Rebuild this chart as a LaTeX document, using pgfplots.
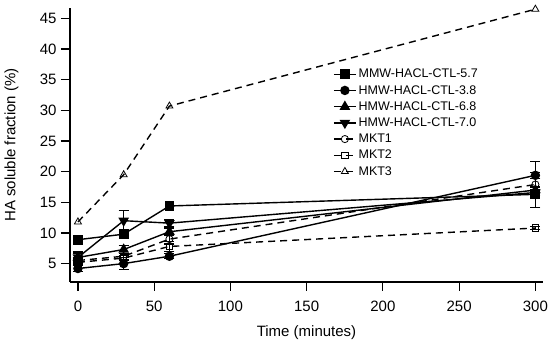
\documentclass[border=0pt]{standalone}
\usepackage{fontspec}
\setmainfont{Liberation Sans}
\usepackage{pgfplots}
\pgfplotsset{compat=1.18}
\begin{document}
\begin{tikzpicture}[x=1pt,y=1pt]
\useasboundingbox (-70,-62) rectangle (480,282);
\begin{axis}[
  at={(0,0)}, anchor=south west,
  scale only axis, width=473pt, height=274pt,
  xmin=-5.2, xmax=305, ymin=2, ymax=46.7,
  axis x line=bottom, axis y line=left,
  axis line style={-, line width=1.2pt},
  xtick={0,50,...,300}, ytick={5,10,...,45},
  minor tick num=0,
  tick align=outside, major tick length=9pt,
  tick style={black, line width=1.2pt},
  ticklabel style={font=\fontsize{15}{17}\selectfont},
  xticklabel style={yshift=-6pt},
  yticklabel style={xshift=-1pt},
  /pgf/number format/assume math mode=true,
  xlabel={Time (minutes)},
  ylabel={HA soluble fraction (\%)},
  label style={font=\fontsize{15}{17}\selectfont},
  xlabel style={at={(axis description cs:0.5,0)}, anchor=north, yshift=-40pt},
  ylabel style={at={(axis description cs:0,0.5)}, anchor=south, yshift=48pt},
  clip=false,
  legend style={at={(axis description cs:0.556,0.785)}, anchor=north west, draw=none, fill=none,
    font=\fontsize{12.5}{14}\selectfont, row sep=2pt, inner sep=0pt},
  legend cell align=left,
  legend image code/.code={\draw[#1] (0pt,0pt) -- (22pt,0pt); \draw[#1, solid, mark repeat=1] plot coordinates {(11pt,0pt)};},
  every axis plot/.append style={line width=1.4pt, black},
  error bars/error bar style={line width=1.2pt, solid},
  error bars/error mark options={rotate=90, mark size=5pt, line width=1.2pt},
]
% MMW-HACL-CTL-5.7
\addplot[mark=square*, mark size=4.2pt] coordinates {(0,8.9) (30,9.8) (60,14.4) (300,16.3)};
\addlegendentry{MMW-HACL-CTL-5.7}
% HMW-HACL-CTL-3.8
\addplot[mark=*, mark size=4pt, error bars/.cd, y dir=both, y explicit] coordinates {(0,4.2) +- (0,0.5) (30,5.0) +- (0,1.0) (60,6.2) +- (0,0.4) (300,19.4) +- (0,0.5)};
\addlegendentry{HMW-HACL-CTL-3.8}
% HMW-HACL-CTL-6.8
\addplot[mark=triangle*, mark size=4.8pt, error bars/.cd, y dir=both, y explicit] coordinates {(0,6.0) +- (0,0.6) (30,7.3) +- (0,0.6) (60,10.2) +- (0,0.6) (300,17.0) +- (0,0.5)};
\addlegendentry{HMW-HACL-CTL-6.8}
% HMW-HACL-CTL-7.0
\addplot[mark=triangle*, mark options={rotate=180}, mark size=4.8pt, error bars/.cd, y dir=both, y explicit] coordinates {(0,6.0) +- (0,0.9) (30,12.0) +- (0,1.7) (60,11.6) +- (0,0.6) (300,16.6) +- (0,0.5)};
\addlegendentry{HMW-HACL-CTL-7.0}
% MKT1
\addplot[dashed, dash pattern=on 7pt off 5pt, mark=o, mark size=3.6pt, mark options={solid, line width=0.8pt}, error bars/.cd, y dir=both, y explicit] coordinates {(0,5.5) +- (0,0.4) (30,6.2) +- (0,0.5) (60,9.0) +- (0,0.8) (300,17.9) +- (0,3.7)};
\addlegendentry{MKT1}
% MKT2
\addplot[dashed, dash pattern=on 7pt off 5pt, mark=square, mark size=3.2pt, mark options={solid, line width=0.8pt}, error bars/.cd, y dir=both, y explicit] coordinates {(0,5.2) +- (0,0.4) (30,5.9) +- (0,0.4) (60,7.8) +- (0,0.8) (300,10.8) +- (0,0.2)};
\addlegendentry{MKT2}
% MKT3
\addplot[dashed, dash pattern=on 7pt off 5pt, mark=triangle, mark size=4pt, mark options={solid, line width=0.8pt}] coordinates {(0,11.8) (30,19.5) (60,30.7) (300,46.5)};
\addlegendentry{MKT3}
\end{axis}
\end{tikzpicture}
\end{document}
